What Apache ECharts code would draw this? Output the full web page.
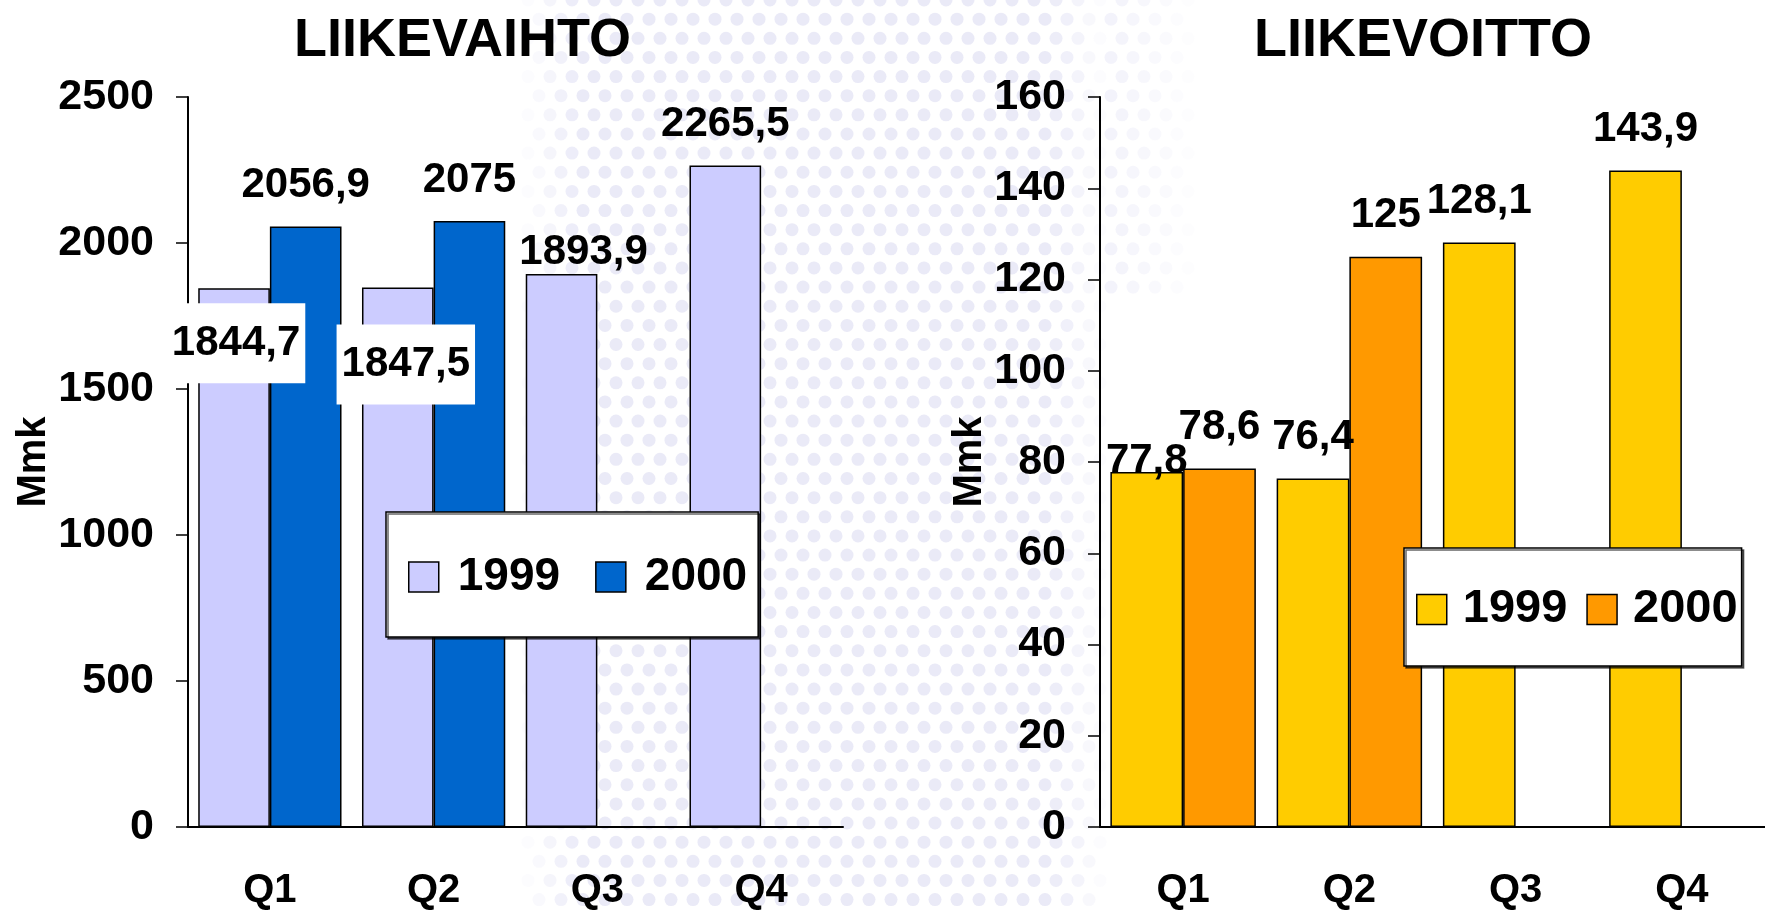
<!DOCTYPE html>
<html>
<head>
<meta charset="utf-8">
<script src="https://cdn.jsdelivr.net/npm/echarts@6/dist/echarts.min.js"></script>
</head>
<body style="margin:0; background:#fff">
<div id="container" style="width:1765px; height:911px"></div>
<script>
// data
var quarters = ['Q1', 'Q2', 'Q3', 'Q4'];
var years = ['1999', '2000'];
var sales1999 = [1844.7, 1847.5, 1893.9, 2265.5];   // LIIKEVAIHTO
var sales2000 = [2056.9, 2075, '-', '-'];
var profit1999 = [77.8, 76.4, 128.1, 143.9];        // LIIKEVOITTO
var profit2000 = [78.6, 125, '-', '-'];

var font = "'Liberation Sans', Arial, sans-serif";

// labels that were moved by hand in the original slide
var boxLabel = { backgroundColor: '#fff', padding: [19, 5] };
var tweaks = {
    s1999: { 0: Object.assign({ offset: [2, 115] }, boxLabel), 1: Object.assign({ offset: [8, 137] }, boxLabel), 2: { offset: [22, 19] } },
    p1999: { 0: { offset: [0, 30] } }
};

function withTweaks(values, t) {
    return values.map(function (v, i) {
        if (t && t[i]) return { value: v, label: t[i] };
        return v;
    });
}
function fmt(p) { return String(p.value).replace('.', ','); }
function yearOf(name) { return name.split(' ').pop(); }

// faint dotted watermark of the slide background
function watermark() {
    var c = document.createElement('canvas');
    c.width = 1765; c.height = 911;
    var g = c.getContext('2d');
    var step = 22;
    for (var row = 0; row * step * 0.87 < 911; row++) {
        var y = row * step * 0.87;
        for (var x = (row % 2) * step / 2; x < 1765; x += step) {
            var a = 0;
            if (x > 520 && x < 1110) a = Math.min(1, (x - 520) / 60, (1110 - x) / 60);
            if (x >= 1110 && x < 1200 && y < 300) a = Math.min(1, (1200 - x) / 90) * 0.6;
            if (a <= 0) continue;
            g.fillStyle = 'rgba(214,214,240,' + (0.5 * a) + ')';
            g.beginPath(); g.arc(x, y, 6.5, 0, Math.PI * 2); g.fill();
        }
    }
    return c;
}

var dom = document.getElementById('container');
var myChart = echarts.init(dom, null, { renderer: 'canvas' });

var txt = { color: '#000', fontWeight: 'bold', fontFamily: font };

function xAxis(gi) {
    return {
        type: 'category', gridIndex: gi, data: quarters,
        axisLine: { lineStyle: { color: '#000', width: 2 } },
        axisTick: { length: 13, lineStyle: { color: '#000', width: 1.5 } },
        axisLabel: Object.assign({ fontSize: 40, margin: 44 }, txt)
    };
}
function yAxis(gi, max, step, gap) {
    return {
        type: 'value', gridIndex: gi, min: 0, max: max, interval: step,
        name: 'Mmk', nameLocation: 'middle', nameRotate: 90, nameGap: gap,
        nameTextStyle: Object.assign({ fontSize: 40 }, txt),
        splitLine: { show: false },
        axisLine: { show: true, lineStyle: { color: '#000', width: 2 } },
        axisTick: { show: true, length: 12, lineStyle: { color: '#000', width: 1.5 } },
        axisLabel: Object.assign({ fontSize: 43, margin: 34, formatter: function (v) { return String(v); } }, txt)
    };
}
function bar(name, values, color, gi, t) {
    return {
        name: name, type: 'bar', xAxisIndex: gi, yAxisIndex: gi,
        data: withTweaks(values, t),
        barGap: 0, barCategoryGap: '12.5%',
        itemStyle: { color: color, borderColor: '#000', borderWidth: 1.5 },
        label: Object.assign({ show: true, position: 'top', distance: 20, fontSize: 42, lineHeight: 42, formatter: fmt }, txt)
    };
}
function legend(names, pos, padding, gap, textPad, size) {
    return Object.assign({
        data: names, orient: 'horizontal',
        padding: padding, itemGap: gap, itemWidth: 30, itemHeight: 30,
        icon: 'rect', selectedMode: false,
        backgroundColor: '#fff', borderColor: '#000', borderWidth: 1.5,
        shadowColor: 'rgba(0,0,0,0.6)', shadowOffsetX: 2, shadowOffsetY: 2, shadowBlur: 0,
        itemStyle: { borderColor: '#000', borderWidth: 1.5 },
        formatter: yearOf,
        textStyle: Object.assign({ fontSize: size, lineHeight: size, padding: [0, 0, 0, textPad] }, txt)
    }, pos);
}

var option = {
    animation: false,
    backgroundColor: '#fff',
    graphic: [{
        type: 'image', left: 0, top: 0, z: -10, silent: true,
        style: { image: watermark(), width: 1765, height: 911 }
    }],
    title: [
        { text: 'LIIKEVAIHTO', left: 294, top: 14, padding: 0, textStyle: Object.assign({ fontSize: 54 }, txt) },
        { text: 'LIIKEVOITTO', left: 1254, top: 14, padding: 0, textStyle: Object.assign({ fontSize: 54 }, txt) }
    ],
    grid: [
        { left: 188, right: 1765 - 843, top: 97, bottom: 911 - 828 },
        { left: 1100, right: -17, top: 97, bottom: 911 - 828 }
    ],
    xAxis: [xAxis(0), xAxis(1)],
    yAxis: [yAxis(0, 2500, 500, 129), yAxis(1, 160, 20, 110)],
    legend: [
        legend(['Liikevaihto ' + years[0], 'Liikevaihto ' + years[1]], { left: 386, top: 512 }, [42, 11, 37, 22], 35, 14, 46),
        legend(['Liikevoitto ' + years[0], 'Liikevoitto ' + years[1]], { left: 1404, top: 548 }, [38, 4, 33, 12], 19, 11, 47)
    ],
    series: [
        bar('Liikevaihto ' + years[0], sales1999, '#CCCCFF', 0, tweaks.s1999),
        bar('Liikevaihto ' + years[1], sales2000, '#0066CC', 0),
        bar('Liikevoitto ' + years[0], profit1999, '#FFCC00', 1, tweaks.p1999),
        bar('Liikevoitto ' + years[1], profit2000, '#FF9900', 1)
    ]
};

myChart.setOption(option);
</script>
</body>
</html>
